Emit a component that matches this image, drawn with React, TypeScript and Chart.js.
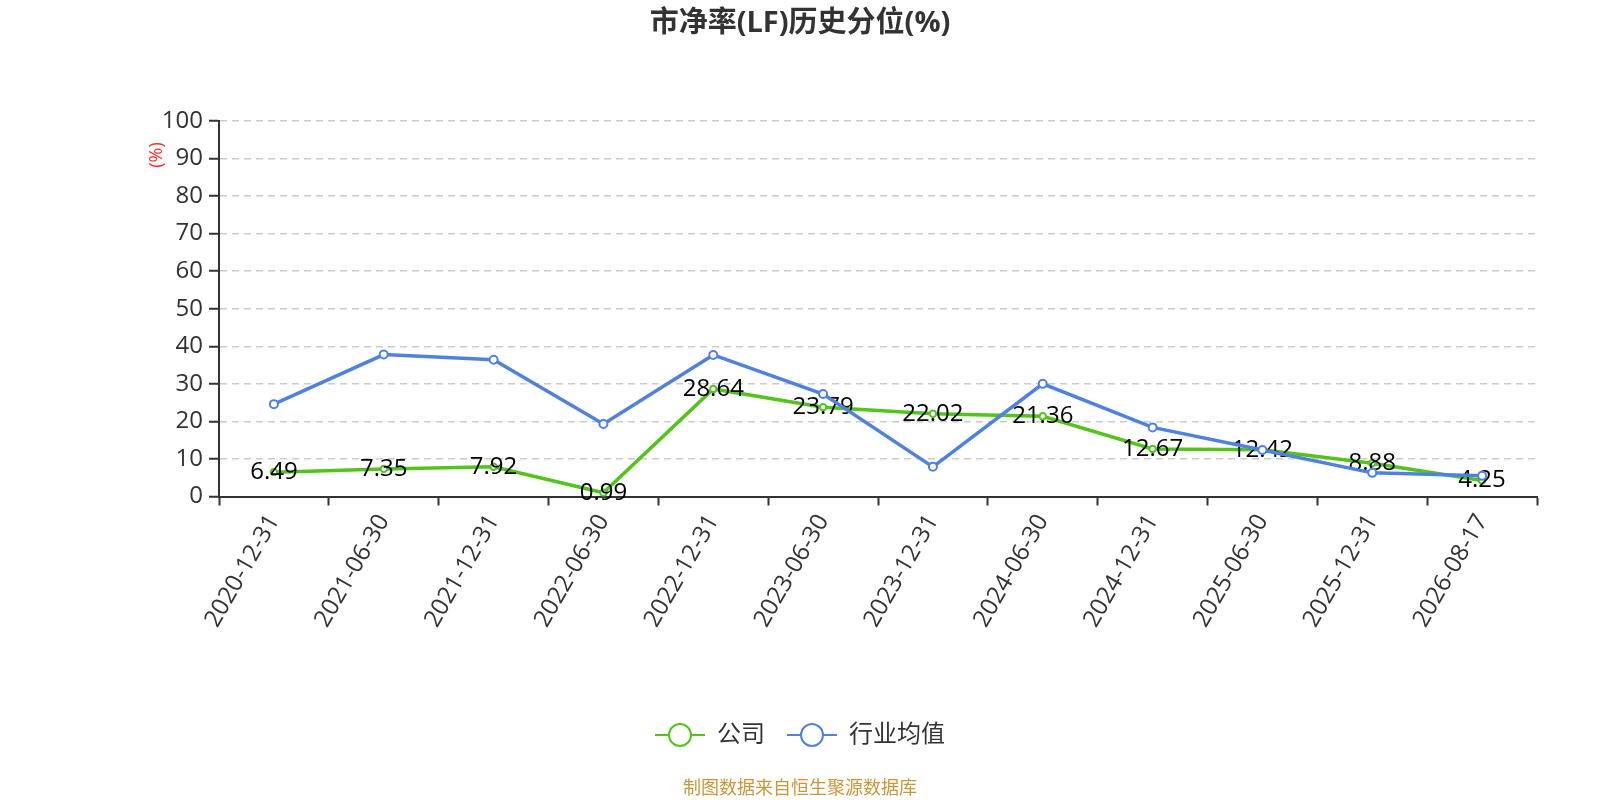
import { useEffect, useRef } from "react";
import { Chart, registerables } from "chart.js";

Chart.register(...registerables);

// values
const categories = [
  "2020-12-31", "2021-06-30", "2021-12-31", "2022-06-30",
  "2022-12-31", "2023-06-30", "2023-12-31", "2024-06-30",
  "2024-12-31", "2025-06-30", "2025-12-31", "2026-08-17",
];
const companyValues = [6.49, 7.35, 7.92, 0.99, 28.64, 23.79, 22.02, 21.36, 12.67, 12.42, 8.88, 4.25];
const industryValues = [24.6, 37.8, 36.4, 19.3, 37.7, 27.3, 7.9, 30.0, 18.4, 12.4, 6.3, 5.5];
const seriesNames = ["公司", "行业均值"];
const yMin = 0;
const yMax = 100;
const yStep = 10;

const GREEN = "#52c41a";
const BLUE = "#4f82e0";
const FONT = '"Open Sans", "Noto Sans CJK SC", sans-serif';

// legend icon: short line with a hollow circle in the middle
function makeLegendIcon(color: string) {
  const c = document.createElement("canvas");
  c.width = 50;
  c.height = 26;
  const ctx = c.getContext("2d")!;
  ctx.strokeStyle = color;
  ctx.lineWidth = 2;
  ctx.beginPath();
  ctx.moveTo(0, 13);
  ctx.lineTo(50, 13);
  ctx.stroke();
  ctx.beginPath();
  ctx.arc(25, 13, 11, 0, Math.PI * 2);
  ctx.fillStyle = "#fff";
  ctx.fill();
  ctx.stroke();
  return c;
}

// value labels of the company series, drawn right after that series
const valueLabels = {
  id: "valueLabels",
  afterDatasetDraw(chart: any, args: any) {
    if (args.index !== 0) return;
    const ctx = chart.ctx;
    ctx.save();
    ctx.font = `24px ${FONT}`;
    ctx.fillStyle = "#000";
    ctx.textAlign = "center";
    ctx.textBaseline = "middle";
    args.meta.data.forEach((pt: any, i: number) => {
      ctx.fillText(companyValues[i].toFixed(2), pt.x, pt.y);
    });
    ctx.restore();
  },
};

// small red unit text next to the y axis
const unitLabel = {
  id: "unitLabel",
  afterDraw(chart: any) {
    const { ctx, chartArea } = chart;
    ctx.save();
    ctx.translate(chartArea.left - 62, chartArea.top + 34);
    ctx.rotate(-Math.PI / 2);
    ctx.font = `18px ${FONT}`;
    ctx.fillStyle = "#ff2a2a";
    ctx.textAlign = "center";
    ctx.textBaseline = "middle";
    ctx.fillText("(%)", 0, 0);
    ctx.restore();
  },
};

export default function App() {
  const chartRef = useRef<HTMLCanvasElement>(null);
  const chartInstance = useRef<Chart | null>(null);

  useEffect(() => {
    if (!chartRef.current) return;
    if (chartInstance.current) chartInstance.current.destroy();

    const icons = [makeLegendIcon(GREEN), makeLegendIcon(BLUE)];

    chartInstance.current = new Chart(chartRef.current, {
      type: "line",
      data: {
        labels: categories,
        datasets: [
          {
            label: seriesNames[0],
            data: companyValues,
            borderColor: GREEN,
            borderWidth: 3.5,
            pointRadius: 3.2,
            pointBorderWidth: 2,
            pointBackgroundColor: "#fff",
            pointBorderColor: GREEN,
            tension: 0,
            order: 1,
          },
          {
            label: seriesNames[1],
            data: industryValues,
            borderColor: BLUE,
            borderWidth: 3.5,
            pointRadius: 4,
            pointBorderWidth: 2,
            pointBackgroundColor: "#fff",
            pointBorderColor: BLUE,
            tension: 0,
            order: 0,
          },
        ],
      },
      options: {
        responsive: false,
        animation: false,
        layout: { padding: 0 },
        font: { family: FONT },
        scales: {
          x: {
            type: "category",
            offset: true,
            grid: {
              offset: true,
              drawOnChartArea: false,
              drawTicks: true,
              tickLength: 9,
              tickColor: "#333",
              tickWidth: 2,
            },
            border: { display: true, color: "#333", width: 2 },
            ticks: {
              color: "#333",
              font: { size: 24, family: FONT },
              minRotation: 60,
              maxRotation: 60,
              padding: 4,
              autoSkip: false,
            },
            afterFit: (s: any) => {
              s.height = 204.5;
            },
          },
          y: {
            min: yMin,
            max: yMax,
            grid: {
              color: "#cccccc",
              lineWidth: 1.5,
              tickColor: "#333",
              tickWidth: 2,
              tickLength: 10,
              tickBorderDash: [],
            },
            border: { display: true, color: "#333", width: 2, dash: [7, 5] },
            ticks: {
              stepSize: yStep,
              color: "#333",
              font: { size: 24, family: FONT },
              padding: 6,
            },
            afterFit: (s: any) => {
              s.width = 219;
            },
          },
          yRight: {
            type: "linear",
            position: "right",
            display: true,
            grid: { display: false },
            border: { display: false },
            ticks: { display: false },
            afterFit: (s: any) => {
              s.width = 63;
            },
          },
        },
        plugins: {
          title: {
            display: true,
            text: "市净率(LF)历史分位(%)",
            color: "#333",
            font: { size: 29, weight: "bold", family: FONT },
            padding: { top: 6.1, bottom: 80.1 },
          },
          subtitle: {
            display: true,
            position: "bottom",
            text: "制图数据来自恒生聚源数据库",
            color: "#c9973a",
            font: { size: 18, family: FONT },
            padding: { top: 20.7, bottom: 0.7 },
          },
          legend: {
            position: "bottom",
            labels: {
              usePointStyle: true,
              pointStyleWidth: 50,
              boxHeight: 24,
              padding: 22,
              color: "#333",
              font: { size: 24, family: FONT },
              generateLabels: (chart: any) =>
                chart.data.datasets.map((ds: any, i: number) => ({
                  text: ds.label,
                  pointStyle: icons[i],
                  datasetIndex: i,
                  hidden: false,
                  fontColor: "#333",
                  lineWidth: 0,
                  strokeStyle: "transparent",
                  fillStyle: "transparent",
                })),
            },
          },
          tooltip: { enabled: false },
        },
      },
      plugins: [valueLabels, unitLabel],
    } as any);

    return () => {
      if (chartInstance.current) {
        chartInstance.current.destroy();
        chartInstance.current = null;
      }
    };
  }, []);

  return (
    <div style={{ position: "fixed", left: 0, top: 0, width: "1600px", height: "800px", background: "#fff" }}>
      <canvas ref={chartRef} width={1600} height={800} />
    </div>
  );
}
